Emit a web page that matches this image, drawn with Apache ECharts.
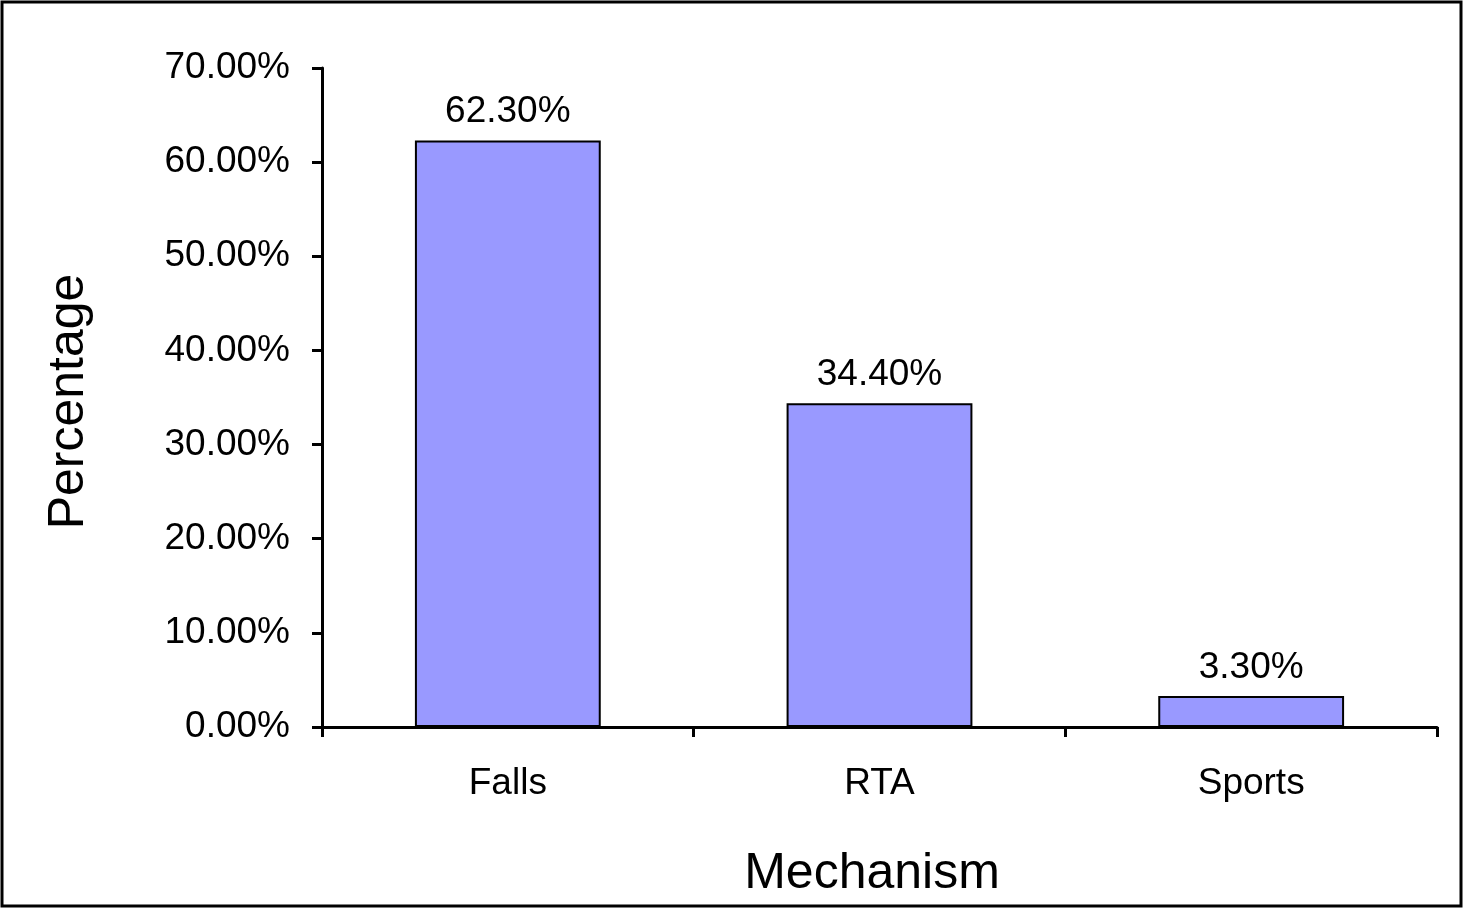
<!DOCTYPE html>
<html><head><meta charset="utf-8">
<script src="https://cdn.jsdelivr.net/npm/echarts@6/dist/echarts.min.js"></script>
<style>html,body{margin:0;padding:0;background:#fff}#c{width:1465px;height:909px}</style>
</head><body><div id="c"></div>
<script>
const categories = ["Falls", "RTA", "Sports"];
const values = [62.3, 34.4, 3.3];
const yTicks = {min: 0, max: 70, interval: 10};
const chart = echarts.init(document.getElementById('c'));
const font = '"Liberation Sans", Arial, sans-serif';
chart.setOption({
  animation: false,
  backgroundColor: '#fff',
  graphic: [{type:'rect', shape:{x:2, y:2, width:1459, height:904}, style:{fill:'none', stroke:'#000', lineWidth:3}, z:100}],
  grid: {left: 322, right: 28, top: 68, bottom: 182},
  xAxis: {
    type: 'category', data: categories,
    name: 'Mechanism', nameLocation: 'middle', nameGap: 122,
    nameTextStyle: {fontFamily: font, fontSize: 50, color: '#000', padding: [0, 15, 0, 0]},
    axisLine: {lineStyle: {color: '#000', width: 3}},
    axisTick: {show: true, length: 10, lineStyle: {color: '#000', width: 3}},
    axisLabel: {fontFamily: font, fontSize: 37, color: '#000', margin: 38}
  },
  yAxis: {
    type: 'value', min: yTicks.min, max: yTicks.max, interval: yTicks.interval,
    name: 'Percentage', nameLocation: 'middle', nameGap: 228, nameRotate: 90,
    nameTextStyle: {fontFamily: font, fontSize: 50, color: '#000', padding: [0, 8, 0, 0]},
    axisLine: {show: true, lineStyle: {color: '#000', width: 3}},
    axisTick: {show: true, length: 10, lineStyle: {color: '#000', width: 3}},
    splitLine: {show: false},
    axisLabel: {fontFamily: font, fontSize: 37, color: '#000', margin: 32, padding: [7, 0, 0, 0],
      formatter: v => v.toFixed(2) + '%'}
  },
  series: [{
    type: 'bar', data: values, barWidth: '50%',
    itemStyle: {color: '#9999FF', borderColor: '#000', borderWidth: 2},
    label: {show: true, position: 'top', distance: 10, fontFamily: font, fontSize: 37, color: '#000',
      formatter: p => p.value.toFixed(2) + '%'}
  }]
});
</script></body></html>
